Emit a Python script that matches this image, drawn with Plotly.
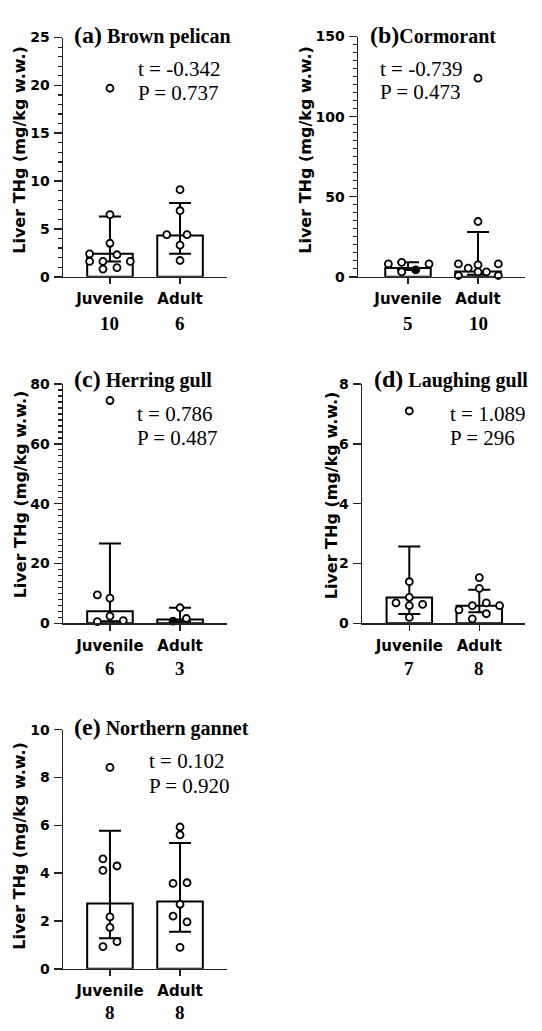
import plotly.graph_objects as go

W, H = 542, 1031

categories = ["Juvenile", "Adult"]

# ---- panel data ----
titles = ["(a)", "(b)", "(c)", "(d)", "(e)"]
species = ["Brown pelican", "Cormorant", "Herring gull", "Laughing gull", "Northern gannet"]
t_stats = ["t = -0.342", "t = -0.739", "t = 0.786", "t = 1.089", "t = 0.102"]
p_stats = ["P = 0.737", "P = 0.473", "P = 0.487", "P = 296", "P = 0.920"]
n_juv = [10, 5, 6, 7, 8]
n_adu = [6, 10, 3, 8, 8]

a_juv = [19.7, 6.5, 3.5, 2.4, 2.3, 1.6, 1.6, 1.6, 0.8, 0.95]
a_adu = [9.1, 6.9, 4.4, 4.4, 3.3, 1.7]
b_juv = [8.0, 9.0, 3.0, 4.3, 8.0]
b_adu = [124.0, 34.5, 8.0, 5.4, 7.4, 3.0, 3.0, 8.0, 0.8, 0.8]
c_juv = [74.5, 9.5, 8.4, 2.4, 0.55, 0.9]
c_adu = [5.2, 0.76, 1.6]
d_juv = [7.1, 1.39, 0.87, 0.68, 0.59, 0.63, 0.2]
d_adu = [1.53, 1.17, 0.45, 0.59, 0.68, 0.59, 0.15, 0.32]
e_juv = [8.42, 4.6, 4.12, 4.3, 2.17, 1.73, 0.93, 1.14]
e_adu = [5.93, 5.6, 3.57, 3.6, 2.7, 2.2, 1.96, 0.9]

# bar heights (median) and error ranges [juvenile, adult]
bar_a = [2.4, 4.3];   hi_a = [6.3, 7.7];   lo_a = [1.6, 2.4]
bar_b = [5.4, 3.3];   hi_b = [9.0, 28.0];  lo_b = [4.3, 1.2]
bar_c = [4.0, 1.3];   hi_c = [26.7, 5.2];  lo_c = [0.7, 0.6]
bar_d = [0.86, 0.59]; hi_d = [2.57, 1.12]; lo_d = [0.31, 0.37]
bar_e = [2.73, 2.82]; hi_e = [5.77, 5.26]; lo_e = [1.28, 1.55]

# y-axis tick settings
y_max = [25, 150, 80, 8, 10]
y_dtick = [5, 50, 20, 2, 2]
y_minor = [1, 5, 2, None, None]

# ---- horizontal jitter of dots (layout) ----
jit_a_juv = [0, 0, 0, -0.29, 0.1, -0.29, -0.1, 0.29, -0.1, 0.1]
jit_a_adu = [0, 0, -0.19, 0.1, 0, 0]
jit_b_juv = [-0.28, -0.09, -0.09, 0.11, 0.3]
jit_b_adu = [0, 0, -0.28, -0.14, 0, 0, 0.12, 0.29, -0.28, 0.29]
jit_c_juv = [0, -0.18, 0, 0, -0.18, 0.19]
jit_c_adu = [0, -0.1, 0.09]
jit_d_juv = [0, 0, 0, -0.19, 0, 0.19, 0]
jit_d_adu = [0, 0, -0.29, -0.1, 0.1, 0.29, -0.1, 0.1]
jit_e_juv = [0, -0.1, -0.1, 0.1, 0, 0, -0.1, 0.1]
jit_e_adu = [0, 0, -0.1, 0.1, 0, -0.1, 0.1, 0]
filled = {("b", 0): [3], ("c", 1): [1]}

panels = [
    ("a", a_juv, a_adu, jit_a_juv, jit_a_adu, bar_a, hi_a, lo_a),
    ("b", b_juv, b_adu, jit_b_juv, jit_b_adu, bar_b, hi_b, lo_b),
    ("c", c_juv, c_adu, jit_c_juv, jit_c_adu, bar_c, hi_c, lo_c),
    ("d", d_juv, d_adu, jit_d_juv, jit_d_adu, bar_d, hi_d, lo_d),
    ("e", e_juv, e_adu, jit_e_juv, jit_e_adu, bar_e, hi_e, lo_e),
]

# ---- layout geometry in pixels ----
# (left, right, top, bottom) of plot area; x range
boxes = [
    (63, 227, 30, 273, [-0.67, 1.67]),
    (358, 525, 29, 273, [-0.714, 1.671]),
    (63, 227, 382, 625, [-0.67, 1.67]),
    (362, 525, 382, 625, [-0.676, 1.653]),
    (63, 227, 733, 976, [-0.67, 1.67]),
]
title_pos = [(72, 27), (368, 27), (72, 377), (372, 377), (72, 730)]
stat_pos = [(136, 62, 86), (378, 62, 85), (135, 412, 437), (448, 412, 437), (147, 765, 790)]
ytitle_pos = [(20, 144), (306, 144), (20, 494), (331, 495), (20, 851)]
n_offset = [47, 47, 46, 46, 44]

SANS = "DejaVu Sans"
SERIF = "Liberation Serif"
AX = "#222222"

def px(x):
    return x / W

def py(y):
    return 1 - y / H

fig = go.Figure()
layout = dict(
    width=W, height=H, margin=dict(l=0, r=0, t=0, b=0),
    paper_bgcolor="white", plot_bgcolor="white", showlegend=False,
    barmode="overlay", annotations=[],
)

for i, (key, juv, adu, jj, ja, bars, his, los) in enumerate(panels):
    sfx = "" if i == 0 else str(i + 1)
    xa, ya = "x" + sfx, "y" + sfx
    l, r, t, b, xr = boxes[i]

    fig.add_trace(go.Bar(
        x=[0, 1], y=bars, width=0.65, xaxis=xa, yaxis=ya,
        marker=dict(color="white", line=dict(color="black", width=2)),
        error_y=dict(type="data", symmetric=False,
                     array=[h - v for h, v in zip(his, bars)],
                     arrayminus=[v - lo for v, lo in zip(bars, los)],
                     color="black", thickness=2, width=11),
        cliponaxis=False,
    ))
    for gi, (vals, jit) in enumerate([(juv, jj), (adu, ja)]):
        fill_idx = filled.get((key, gi), [])
        colors = ["black" if k in fill_idx else "white" for k in range(len(vals))]
        fig.add_trace(go.Scatter(
            x=[gi + d for d in jit], y=vals, mode="markers", xaxis=xa, yaxis=ya,
            marker=dict(symbol="circle", size=7, color=colors,
                        line=dict(color="black", width=1.8)),
            cliponaxis=False,
        ))

    yminor = dict(dtick=y_minor[i], ticks="outside", ticklen=4, tickcolor=AX,
                  tickwidth=1.2) if y_minor[i] else dict(ticks="")
    layout["xaxis" + sfx] = dict(
        domain=[px(l), px(r)], anchor=ya, range=xr, showgrid=False, zeroline=False,
        showline=True, linecolor=AX, linewidth=1.5,
        tickmode="array", tickvals=[0, 1], ticktext=categories,
        ticks="outside", ticklen=6, tickcolor=AX, tickwidth=1.5,
        tickfont=dict(family=SANS, size=15, color="black", weight="bold"),
        ticklabelstandoff=2, fixedrange=True,
    )
    layout["yaxis" + sfx] = dict(
        domain=[py(b), py(t)], anchor=xa, range=[0, y_max[i]], showgrid=False,
        zeroline=False, showline=True, linecolor=AX, linewidth=1.5,
        tick0=0, dtick=y_dtick[i], ticks="outside", ticklen=8, tickcolor=AX,
        tickwidth=1.5, minor=yminor,
        tickfont=dict(family=SANS, size=14, color="black", weight="bold"),
        ticklabelstandoff=1, fixedrange=True,
    )

    ann = layout["annotations"]
    tx, tyy = title_pos[i]
    ann.append(dict(
        xref="paper", yref="paper", x=px(tx), y=py(tyy), xanchor="left", yanchor="middle",
        text=f"<b><span style='font-size:24px'>{titles[i]}</span>"
             f"<span style='font-size:20px'>{'' if key == 'b' else ' '}{species[i]}</span></b>",
        showarrow=False, font=dict(family=SERIF, size=20, color="black"),
    ))
    sx, sy1, sy2 = stat_pos[i]
    for txt, yy in ((t_stats[i], sy1), (p_stats[i], sy2)):
        ann.append(dict(
            xref="paper", yref="paper", x=px(sx), y=py(yy), xanchor="left",
            yanchor="middle", text=txt, showarrow=False,
            font=dict(family=SERIF, size=21, color="black"),
        ))
    yx, yy = ytitle_pos[i]
    ann.append(dict(
        xref="paper", yref="paper", x=px(yx), y=py(yy), xanchor="center",
        yanchor="middle", text="<b>Liver THg (mg/kg w.w.)</b>", textangle=-90,
        showarrow=False, font=dict(family=SANS, size=16, color="black"),
    ))
    for ci, n in enumerate((n_juv[i], n_adu[i])):
        ann.append(dict(
            xref=xa, yref="paper", x=ci, y=py(b + n_offset[i]), xanchor="center",
            yanchor="middle", text=f"<b>{n}</b>", showarrow=False,
            font=dict(family=SERIF, size=19, color="black"),
        ))

fig.update_layout(**layout)
fig.write_html(
    "out.html",
    config={"displayModeBar": False, "staticPlot": True},
    post_script="document.body.style.margin='0';document.body.style.overflow='hidden';",
)
